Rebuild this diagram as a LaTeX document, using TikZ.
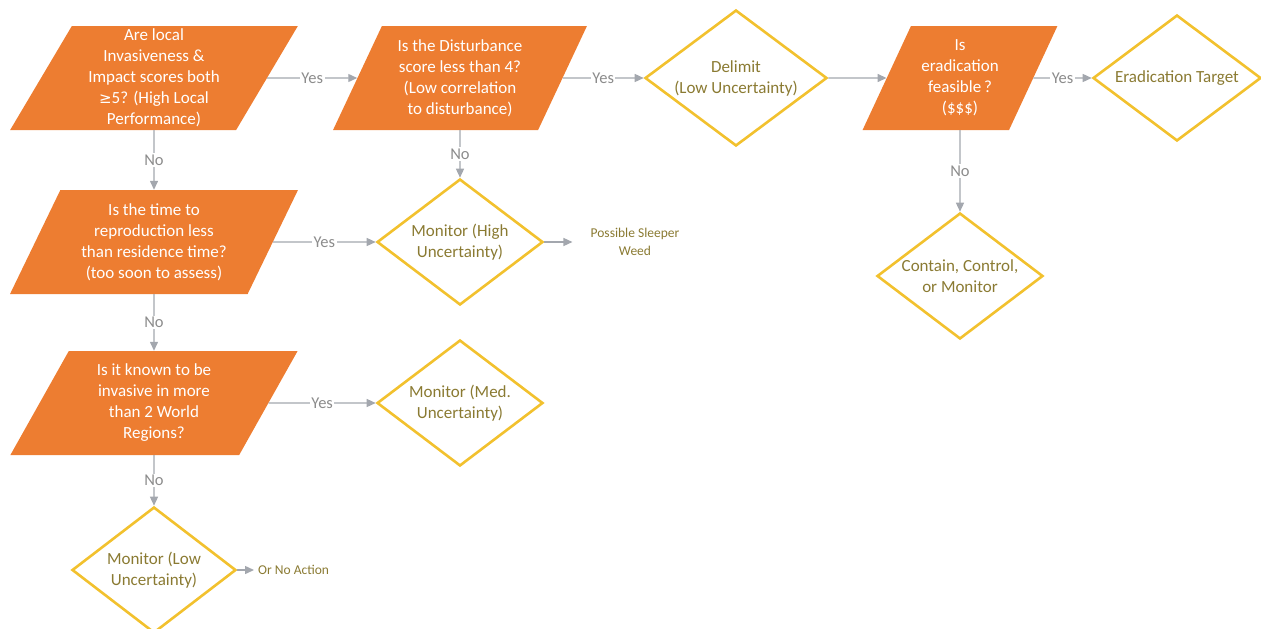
\documentclass[tikz,border=0pt]{standalone}
\usepackage{fontspec}
\setmainfont{Carlito}
\usetikzlibrary{shapes.geometric,arrows.meta}
\definecolor{orng}{HTML}{ED7D31}
\definecolor{gold}{HTML}{F2C12E}
\definecolor{olivetext}{HTML}{8A7A32}
\definecolor{arrc}{HTML}{A3A7AE}
\definecolor{lblc}{HTML}{8C8C8C}
\begin{document}
\begin{tikzpicture}[x=1pt,y=-1pt,
  quest/.style={trapezium, trapezium left angle=63.4, trapezium right angle=116.6,
    trapezium stretches=true, fill=orng, draw=none, text=white, inner sep=1pt,
    minimum height=104pt, align=center, font=\fontsize{17}{21}\selectfont},
  decis/.style={diamond, draw=gold, line width=2.6pt, text=olivetext, inner sep=0pt,
    aspect=1.32, align=center, minimum width=166pt, minimum height=126pt,
    font=\fontsize{17}{21}\selectfont},
  conn/.style={draw=arrc, line width=1.4pt, -{Triangle[length=9pt,width=8pt]}},
  lbl/.style={fill=white, text=lblc, inner sep=1.5pt, font=\fontsize{16.5}{18}\selectfont},
  note/.style={text=olivetext, align=center, font=\fontsize{13.5}{18}\selectfont}
]
\useasboundingbox (0,0) rectangle (1261,629);

\node[quest, minimum width=288pt] (p1) at (154,78)
  {Are local\\Invasiveness \&\\Impact scores both\\{\fontspec{DejaVu Sans}\fontsize{15}{21}\selectfont ≥}5? (High Local\\Performance)};
\node[quest, minimum width=254pt] (p2) at (460,78)
  {Is the Disturbance\\score less than 4?\\(Low correlation\\to disturbance)};
\node[decis, minimum width=182pt, minimum height=136pt] (d1) at (736,78)
  {Delimit\\(Low Uncertainty)};
\node[quest, minimum width=195pt] (p3) at (960,78)
  {Is\\eradication\\feasible\,?\\(\$\$\$)};
\node[decis, minimum width=168pt] (d2) at (1177,78) {Eradication Target};

\node[quest, minimum width=288pt] (p4) at (154,242)
  {Is the time to\\reproduction less\\than residence time?\\(too soon to assess)};
\node[decis] (high) at (460,242) {Monitor (High\\Uncertainty)};
\node[note, inner xsep=18pt, inner ysep=0pt] (sleeper) at (635,242) {Possible Sleeper\\Weed};

\node[quest, minimum width=288pt] (p5) at (154,403)
  {Is it known to be\\invasive in more\\than 2 World\\Regions?};
\node[decis] (med) at (460,403) {Monitor (Med.\\Uncertainty)};

\node[decis, minimum width=164pt] (low) at (154,570) {Monitor (Low\\Uncertainty)};
\node[note, anchor=west, inner xsep=4pt] (noact) at (254,570) {Or No Action};

\node[decis] (contain) at (960,276) {Contain, Control,\\or Monitor};

\draw[conn] (p1) -- node[lbl] {Yes} (p2);
\draw[conn] (p2) -- node[lbl] {Yes} (d1);
\draw[conn] (d1) -- (p3);
\draw[conn] (p3) -- node[lbl] {Yes} (d2);
\draw[conn] (p1) -- node[lbl] {No} (p4);
\draw[conn] (p2) -- node[lbl] {No} (high);
\draw[conn] (p3) -- node[lbl] {No} (contain);
\draw[conn] (p4) -- node[lbl] {Yes} (high);
\draw[conn] (p4) -- node[lbl] {No} (p5);
\draw[conn] (p5) -- node[lbl] {Yes} (med);
\draw[conn] (p5) -- node[lbl] {No} (low);
\draw[conn] (high) -- (sleeper.west);
\draw[conn] (low) -- (noact.west);
\end{tikzpicture}
\end{document}
